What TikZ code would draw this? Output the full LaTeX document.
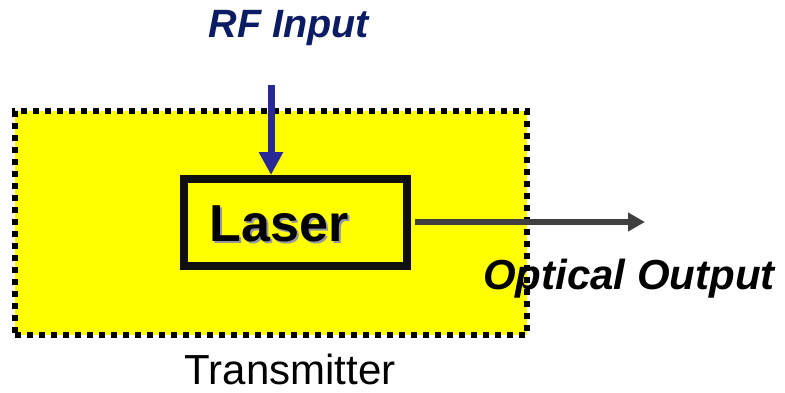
\documentclass[tikz,border=0pt]{standalone}
\usepackage{fontspec}
\setmainfont{Liberation Sans}
\usetikzlibrary{arrows.meta}
\definecolor{ylw}{RGB}{255,255,0}
\definecolor{rfblue}{RGB}{40,40,150}
\definecolor{rfnavy}{RGB}{12,28,100}
\definecolor{outgray}{RGB}{64,64,64}
\definecolor{shadowgray}{RGB}{150,150,160}
\definecolor{boxblack}{RGB}{15,15,15}
\tikzset{
  txbox/.style={draw=black, fill=ylw, line width=6pt, dash pattern=on 6pt off 6pt, inner sep=0pt},
  laserbox/.style={draw=boxblack, line width=8pt, inner sep=0pt},
  rfarrow/.style={draw=rfblue, line width=7pt, -{Triangle[width=23pt,length=23pt]}},
  outarrow/.style={draw=outgray, line width=6pt, -{Triangle[width=18pt,length=17pt]}},
  lbl/.style={inner sep=0pt, anchor=base}
}
\begin{document}
\begin{tikzpicture}[x=1pt,y=1pt]
\useasboundingbox (0,0) rectangle (785,392);
\node[txbox, minimum width=512pt, minimum height=224pt] (tx) at (271,169) {};
\node[laserbox, minimum width=223pt, minimum height=87pt] (laser) at (295.5,169.5) {};
\node[lbl, text=shadowgray] (lasershadow) at (281,149) {\fontsize{52}{52}\selectfont\bfseries Laser};
\node[lbl] (lasertxt) at (279,151) {\fontsize{52}{52}\selectfont\bfseries Laser};
\coordinate (rfstart) at (271,307);
\draw[rfarrow] (rfstart) -- (rfstart |- laser.north);
\coordinate (outend) at (645,170);
\draw[outarrow] (laser.east |- outend) ++(4,0) -- (outend);
\node[lbl, text=rfnavy] (rflbl) at (289,354) {\fontsize{39.5}{40}\selectfont\bfseries\itshape RF Input};
\node[lbl] (optlbl) at (629,103) {\fontsize{42}{42}\selectfont\bfseries\itshape Optical Output};
\node[lbl] (txlbl) at (290,8) {\fontsize{42}{42}\selectfont Transmitter};
\end{tikzpicture}
\end{document}
